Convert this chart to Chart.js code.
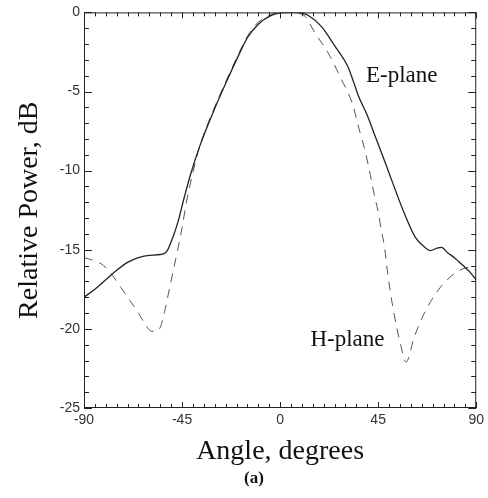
<!DOCTYPE html>
<html>
<head>
<meta charset="utf-8">
<script src="https://cdn.jsdelivr.net/npm/chart.js@4/dist/chart.umd.min.js"></script>
<style>
  html, body { margin: 0; padding: 0; background: #fff; }
  #wrap { width: 488px; height: 498px; }
</style>
</head>
<body>
<div id="wrap"><canvas id="patternChart" width="488" height="498"></canvas></div>
<script>
// E-plane (solid) measured pattern
const eAngles = [-90, -85, -80, -75, -70, -65, -60, -55, -52, -50, -47, -44, -41, -37, -31, -25, -19, -15, -10, -5, 0, 5, 10, 13, 19, 25, 31, 34, 36, 40, 43, 48, 52, 57, 62, 66, 69, 72, 74, 77, 80, 84, 87, 90];
const eValues = [-18.0, -17.5, -16.9, -16.3, -15.8, -15.5, -15.35, -15.3, -15.1, -14.5, -13.3, -11.7, -10.2, -8.5, -6.4, -4.5, -2.7, -1.6, -0.75, -0.25, -0.03, 0, -0.05, -0.2, -0.9, -2.1, -3.4, -4.5, -5.3, -6.5, -7.6, -9.4, -10.9, -12.7, -14.2, -14.8, -15.05, -14.9, -14.85, -15.2, -15.5, -16.0, -16.4, -16.9];

// H-plane (dashed) measured pattern
const hAngles = [-90, -85, -81, -77, -73, -69, -65, -62, -59, -57, -55, -53, -51, -49, -47, -45, -43, -40, -37, -31, -25, -19, -15, -11, -5, 0, 4, 8, 11.5, 16, 22, 28, 33, 36.5, 39, 41, 43, 45, 46.5, 48, 49, 51.7, 55.5, 57.8, 61.6, 66.2, 72.3, 76, 80, 84, 87, 90];
const hValues = [-15.5, -15.7, -16.0, -16.6, -17.4, -18.2, -19.0, -19.7, -20.15, -20.15, -19.9, -18.9, -17.6, -16.3, -15.0, -13.6, -12.0, -10.1, -8.5, -6.3, -4.4, -2.6, -1.5, -0.75, -0.2, 0, 0, -0.05, -0.25, -1.3, -2.55, -4.2, -5.7, -7.5, -8.75, -10.0, -11.4, -12.6, -13.8, -14.9, -16.1, -18.6, -21.1, -22.1, -20.5, -19.0, -17.6, -17.0, -16.5, -16.2, -16.1, -16.3];

const xTicks = [-90, -45, 0, 45, 90];
const yTicks = [-25, -20, -15, -10, -5, 0];

const toPoints = (xs, ys) => xs.map((x, i) => ({ x: x, y: ys[i] }));

// frame with inward ticks on all four sides, plus curve labels
const framePlugin = {
  id: 'frame',
  afterDraw(chart) {
    const { ctx, chartArea: a, scales: { x, y } } = chart;
    ctx.save();
    ctx.strokeStyle = '#222';
    ctx.lineWidth = 1;
    ctx.strokeRect(a.left + 0.5, a.top + 0.5, a.right - a.left - 1, a.bottom - a.top - 1);
    ctx.beginPath();
    for (let d = -90; d <= 90; d += 5) {
      const px = Math.round(x.getPixelForValue(d)) + 0.5;
      const len = d % 45 === 0 ? 6 : 4;
      ctx.moveTo(px, a.bottom); ctx.lineTo(px, a.bottom - len);
      ctx.moveTo(px, a.top); ctx.lineTo(px, a.top + len);
    }
    for (let v = -25; v <= 0; v += 1) {
      const py = Math.round(y.getPixelForValue(v)) + 0.5;
      const len = v % 5 === 0 ? 8 : 5;
      ctx.moveTo(a.left, py); ctx.lineTo(a.left + len, py);
      ctx.moveTo(a.right, py); ctx.lineTo(a.right - len, py);
    }
    ctx.stroke();

    ctx.fillStyle = '#111';
    ctx.textBaseline = 'middle';
    ctx.textAlign = 'left';
    ctx.font = '23px "Liberation Serif", serif';
    ctx.fillText('E-plane', x.getPixelForValue(39.4), y.getPixelForValue(-4.0));
    ctx.fillText('H-plane', x.getPixelForValue(13.9), y.getPixelForValue(-20.7));
    ctx.textAlign = 'center';
    ctx.font = 'bold 17px "Liberation Serif", serif';
    ctx.fillText('(a)', 254, 479);
    ctx.restore();
  }
};

const ctx = document.getElementById('patternChart').getContext('2d');
new Chart(ctx, {
  type: 'line',
  data: {
    datasets: [{
      label: 'E-plane',
      data: toPoints(eAngles, eValues),
      borderColor: '#222',
      borderWidth: 1.3,
      pointRadius: 0,
      cubicInterpolationMode: 'monotone',
      fill: false
    }, {
      label: 'H-plane',
      data: toPoints(hAngles, hValues),
      borderColor: '#555',
      borderWidth: 1,
      borderDash: [9, 7],
      pointRadius: 0,
      cubicInterpolationMode: 'monotone',
      fill: false
    }]
  },
  options: {
    responsive: false,
    animation: false,
    layout: { padding: { top: 11, right: 9, bottom: 30, left: 0 } },
    plugins: {
      legend: { display: false },
      tooltip: { enabled: false }
    },
    scales: {
      x: {
        type: 'linear',
        min: -90,
        max: 90,
        afterBuildTicks: (s) => { s.ticks = xTicks.map(v => ({ value: v })); },
        afterFit: (s) => { s.height = 60; },
        grid: { display: false, drawTicks: false },
        border: { display: false },
        ticks: {
          padding: 4,
          maxRotation: 0,
          color: '#333',
          font: { family: '"Liberation Sans", sans-serif', size: 14 }
        },
        title: {
          display: true,
          text: 'Angle, degrees',
          color: '#111',
          padding: { top: 0, bottom: 0 },
          font: { family: '"Liberation Serif", serif', size: 28 }
        }
      },
      y: {
        min: -25,
        max: 0,
        afterBuildTicks: (s) => { s.ticks = yTicks.map(v => ({ value: v })); },
        afterFit: (s) => { s.width = 84; },
        grid: { display: false, drawTicks: false },
        border: { display: false },
        ticks: {
          padding: 4,
          color: '#333',
          font: { family: '"Liberation Sans", sans-serif', size: 14 }
        },
        title: {
          display: true,
          text: 'Relative Power, dB',
          color: '#111',
          padding: { top: 13, bottom: 0 },
          font: { family: '"Liberation Serif", serif', size: 28 }
        }
      }
    }
  },
  plugins: [framePlugin]
});
</script>
</body>
</html>
